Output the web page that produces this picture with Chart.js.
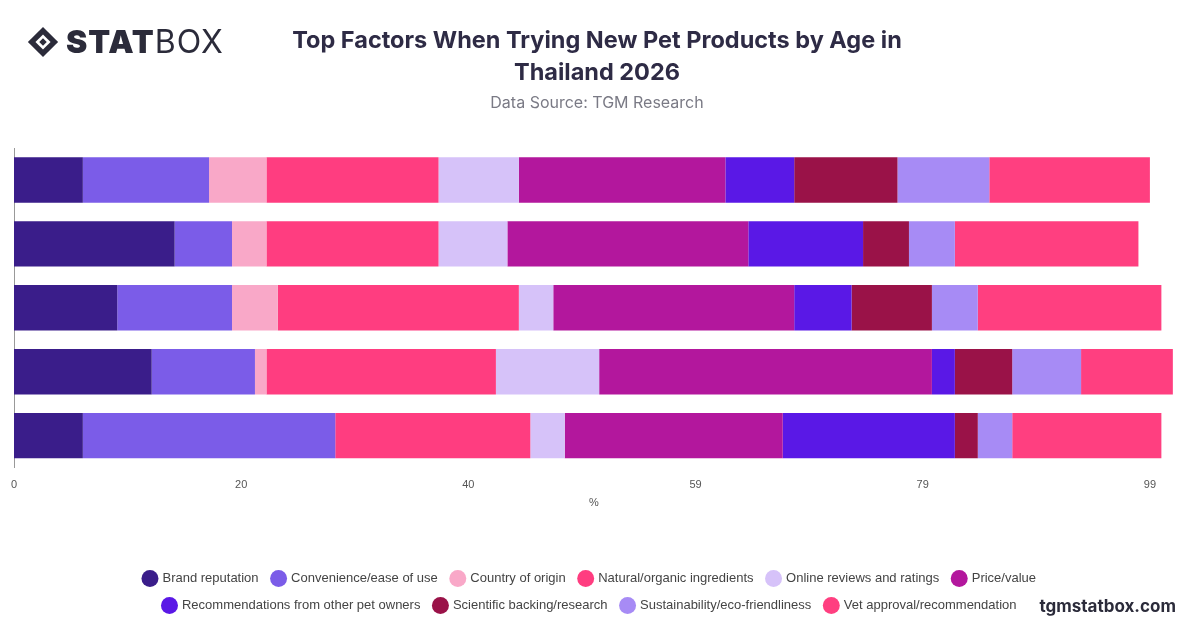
<!DOCTYPE html>
<html>
<head>
<meta charset="utf-8">
<script src="https://cdn.jsdelivr.net/npm/chart.js@4.4.1/dist/chart.umd.min.js"></script>
<style>
  body { margin: 0; width: 1200px; height: 628px; background: #fff; font-family: Inter, "Noto Sans", sans-serif; overflow: hidden; position: relative; }
  #wrap { position: absolute; left: 0; top: 0; width: 1200px; height: 628px; }
  .logo { position: absolute; left: 26px; top: 22px; font-size: 32px; color: #2b2b3a; letter-spacing: 1px; display: flex; align-items: center; }
  .logo b { font-weight: 900; }
  .logo span { font-weight: 400; }
  .title { position: absolute; left: 250px; width: 694px; top: 24px; text-align: center; font-size: 23.5px; font-weight: 700; color: #2e2b45; line-height: 32px; }
  .sub { position: absolute; left: 250px; width: 694px; top: 92px; text-align: center; font-size: 16px; color: #7a7a85; }
  .foot { position: absolute; right: 24px; top: 596px; font-size: 17px; font-weight: 700; color: #2b2b3a; }
</style>
</head>
<body>
<div id="wrap"><canvas id="c" width="1200" height="628"></canvas></div>
<div class="logo">
  <svg width="34" height="34" viewBox="0 0 36 36" style="margin-right:6px"><path d="M18 2 L34 18 L18 34 L2 18 Z" fill="#2b2b3a"/><path d="M18 10 L26 18 L18 26 L10 18 Z" fill="#fff"/><path d="M18 14 L22 18 L18 22 L14 18 Z" fill="#2b2b3a"/></svg>
  <b>STAT</b><span>BOX</span>
</div>
<div class="title">Top Factors When Trying New Pet Products by Age in<br>Thailand 2026</div>
<div class="sub">Data Source: TGM Research</div>
<div class="foot">tgmstatbox.com</div>
<script>
var ageGroups = ['18-24', '25-34', '35-44', '45-54', '55+'];
var factors = ['Brand reputation', 'Convenience/ease of use', 'Country of origin', 'Natural/organic ingredients', 'Online reviews and ratings', 'Price/value', 'Recommendations from other pet owners', 'Scientific backing/research', 'Sustainability/eco-friendliness', 'Vet approval/recommendation'];
var colors = ['#3a1d8a', '#7b5ce8', '#f9a8c8', '#ff3d80', '#d6c2f9', '#b3179d', '#5a18e6', '#9a1248', '#a78bf5', '#ff3f80'];
var brandRep   = [6, 14, 9, 12, 6];
var convenience = [11, 5, 10, 9, 22];
var origin     = [5, 3, 4, 1, 0];
var natural    = [15, 15, 21, 20, 17];
var reviews    = [7, 6, 3, 9, 3];
var price      = [18, 21, 21, 29, 19];
var recommend  = [6, 10, 5, 2, 15];
var science    = [9, 4, 7, 5, 2];
var sustain    = [8, 4, 4, 6, 3];
var vet        = [14, 16, 16, 8, 13];
var xTicks = [0, 19.8, 39.6, 59.4, 79.2, 99];

var series = [brandRep, convenience, origin, natural, reviews, price, recommend, science, sustain, vet];

new Chart(document.getElementById('c'), {
  type: 'bar',
  data: {
    labels: ageGroups,
    datasets: series.map(function (vals, i) {
      return { label: factors[i], data: vals, backgroundColor: colors[i], borderWidth: 0, barPercentage: 0.71, categoryPercentage: 1 };
    })
  },
  options: {
    indexAxis: 'y',
    responsive: false,
    animation: false,
    layout: { padding: { top: 148, left: 6, right: 26, bottom: 6 } },
    scales: {
      x: {
        stacked: true, min: 0, max: 101.1,
        afterBuildTicks: function (axis) { axis.ticks = xTicks.map(function (v) { return { value: v }; }); },
        ticks: { callback: function (v) { return Math.round(v); }, color: '#555', font: { size: 11 } },
        grid: { display: false },
        border: { display: false },
        title: { display: true, text: '%', color: '#555', font: { size: 11 }, padding: { top: 2, bottom: 48 } }
      },
      y: {
        stacked: true,
        ticks: { display: false },
        grid: { display: false },
        border: { color: '#999' }
      }
    },
    plugins: {
      legend: {
        position: 'bottom',
        labels: { usePointStyle: true, pointStyle: 'circle', boxWidth: 12, boxHeight: 12, padding: 14, color: '#444', font: { size: 13 } }
      },
      tooltip: { enabled: false }
    }
  }
});
</script>
</body>
</html>
